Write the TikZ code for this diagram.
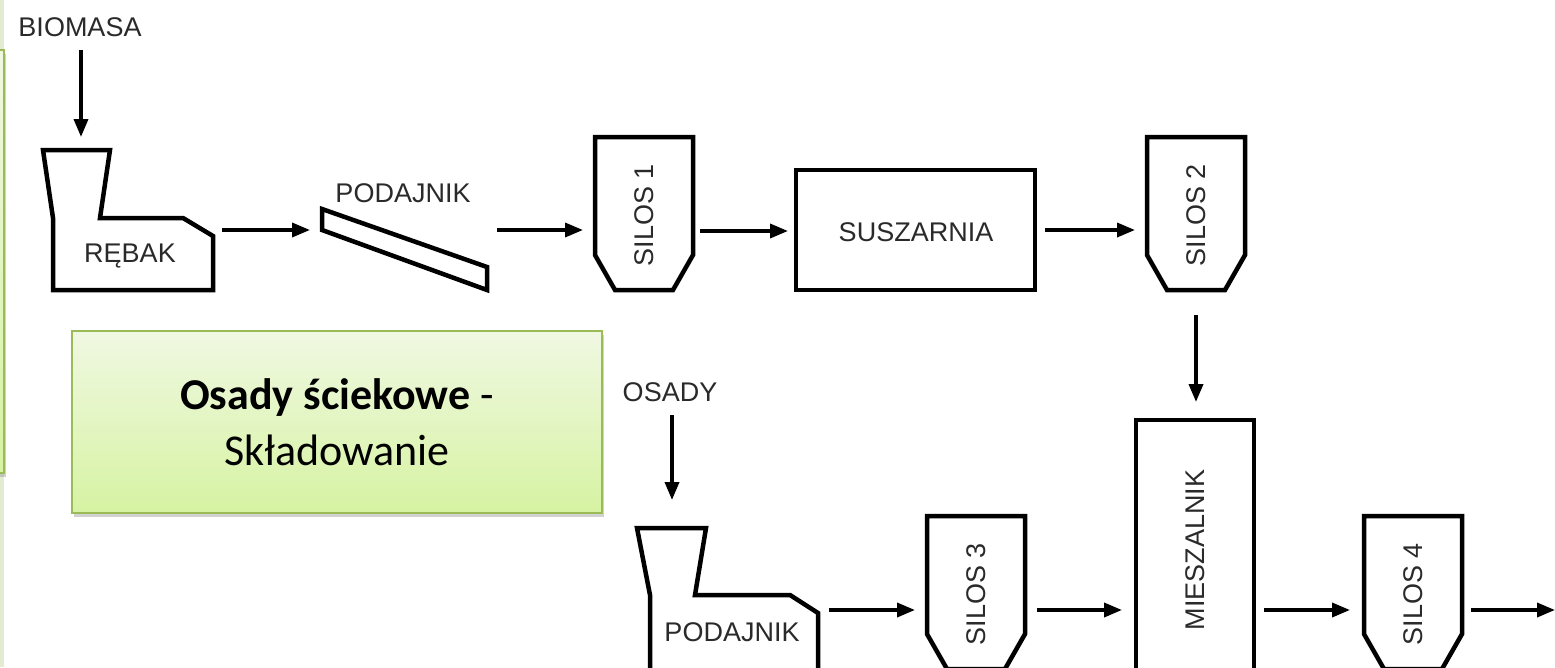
\documentclass[tikz,border=0pt]{standalone}
\usepackage{fontspec}
\setmainfont{Liberation Sans}
\newfontfamily\calibri{Carlito}
\usetikzlibrary{arrows.meta,shadows}
\definecolor{txtgray}{HTML}{2A2A2A}
\definecolor{gborder}{HTML}{9BBB59}
\definecolor{gtop}{HTML}{F0F8E2}
\definecolor{gbot}{HTML}{D6F3A2}
\definecolor{strip}{HTML}{E3ECD2}
\tikzset{
  shp/.style={draw=black, line width=4.5pt, line join=miter},
  arr/.style={draw=black, line width=3.6pt, -{Triangle[length=18pt,width=14pt]}},
  lbl/.style={font=\fontsize{27}{30}\selectfont, text=txtgray, inner sep=0pt},
  greenbox/.style={draw=gborder, line width=1.5pt, top color=gtop, bottom color=gbot,
     drop shadow={shadow xshift=2pt, shadow yshift=-4pt, opacity=0.35}}
}
\newcommand\silodraw[4]{%
  \draw[shp] (#2,#3) -- ++(98,0) -- ++(0,118) -- ++(-20,35) -- ++(-58,0) -- ++(-20,-35) -- cycle;
  \node[lbl, rotate=90] (#1) at (#2+49,#3+78) {#4};}
\begin{document}
\begin{tikzpicture}[x=1pt,y=-1pt]
\clip (0,0) rectangle (1555,667);
\fill[white] (0,0) rectangle (1555,667);
% left panel
\fill[strip] (0,0) rectangle (4,667);
\path[greenbox] (-30,50) rectangle (4,473);
% top row
\node[lbl] (biomasa) at (80,27) {BIOMASA};
\coordinate (bioS) at (81,50);
\coordinate (bioE) at (81,137);
\draw[arr] (bioS) -- (bioE);
\draw[shp] (43,150) -- (110,150) -- (100,218) -- (183,218) -- (213,236) -- (213,290) -- (53,290) -- (53,218) -- cycle;
\node[lbl] (rebak) at (130,256) {RĘBAK};
\coordinate (r1) at (222,230); \coordinate (p1) at (310,230);
\draw[arr] (r1) -- (p1);
\draw[shp] (322,209) -- (487,267) -- (487,290) -- (322,230) -- cycle;
\node[lbl] (podajnik) at (403,193) {PODAJNIK};
\coordinate (p2) at (497,230); \coordinate (s1in) at (583,230);
\draw[arr] (p2) -- (s1in);
\silodraw{silos1}{595}{137}{SILOS 1}
\coordinate (s1out) at (700,231); \coordinate (suin) at (788,231);
\draw[arr] (s1out) -- (suin);
\draw[shp] (796,170) rectangle (1035,290);
\node[lbl] (suszarnia) at (916,232) {SUSZARNIA};
\coordinate (suout) at (1045,230); \coordinate (s2in) at (1135,230);
\draw[arr] (suout) -- (s2in);
\silodraw{silos2}{1147}{137}{SILOS 2}
\coordinate (s2out) at (1196,315); \coordinate (min) at (1196,402);
\draw[arr] (s2out) -- (min);
% green box
\node[greenbox, minimum width=530pt, minimum height=182pt, align=center,
      font=\calibri\fontsize{44}{56}\selectfont, text=black] (osady) at (337,422)
      {\textbf{Osady ściekowe} -\\Składowanie};
% bottom row
\node[lbl] (osadylbl) at (670,392) {OSADY};
\coordinate (oS) at (672,415); \coordinate (oE) at (672,500);
\draw[arr] (oS) -- (oE);
\draw[shp] (637,528) -- (706,528) -- (695,595) -- (790,595) -- (818,613) -- (818,700) -- (650,700) -- (650,595) -- cycle;
\node[lbl] (podajnik2) at (732,632) {PODAJNIK};
\coordinate (p3) at (829,610); \coordinate (s3in) at (915,610);
\draw[arr] (p3) -- (s3in);
\silodraw{silos3}{927}{516}{SILOS 3}
\coordinate (s3out) at (1037,610); \coordinate (m1) at (1122,610);
\draw[arr] (s3out) -- (m1);
\draw[shp] (1136,420) rectangle (1254,700);
\node[lbl, rotate=90] (mieszalnik) at (1195,550) {MIESZALNIK};
\coordinate (m2) at (1264,610); \coordinate (s4in) at (1350,610);
\draw[arr] (m2) -- (s4in);
\silodraw{silos4}{1364}{516}{SILOS 4}
\coordinate (s4out) at (1471,610); \coordinate (outE) at (1555,610);
\draw[arr] (s4out) -- (outE);
\end{tikzpicture}
\end{document}
